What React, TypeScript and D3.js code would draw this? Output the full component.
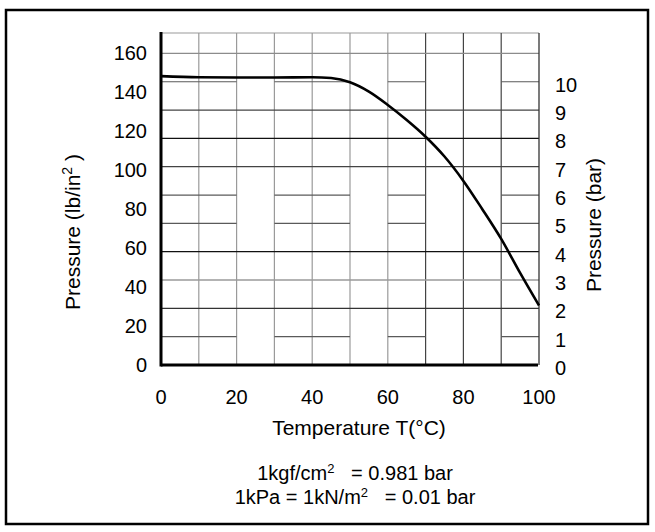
import React, { Component } from 'react';
import * as d3 from 'd3';

// temperature (deg C) vs. allowed pressure (bar)
const temps = [0, 10, 20, 30, 40, 45, 50, 55, 60, 65, 70, 75, 80, 85, 90, 95, 100];
const pressureBar = [10.2, 10.16, 10.15, 10.15, 10.16, 10.13, 9.98, 9.65, 9.18, 8.65, 8.06, 7.36, 6.5, 5.5, 4.45, 3.25, 2.1];

const tempTicks = [0, 20, 40, 60, 80, 100];
const psiTicks = [0, 20, 40, 60, 80, 100, 120, 140, 160];
const barTicks = [0, 1, 2, 3, 4, 5, 6, 7, 8, 9, 10];
const vGrid = [10, 20, 30, 40, 50, 60, 70, 80, 90];
const hGridFull = [2, 3, 4, 7, 8, 9, 11];
const hGridBroken = [1, 5, 6, 10];
const brokenSpans = [[0, 20], [30, 50], [60, 70], [90, 100]];

const PSI_PER_BAR = 14.5038;
const PSI_MAX = 170;

class PressureChart extends Component<any> {
    svgRef = React.createRef<SVGSVGElement>();

    componentDidMount() {
        const svg = d3.select(this.svgRef.current);
        svg.selectAll('*').remove();
        const dims = { left: 161, right: 539, top: 33, bottom: 365 };
        const x = d3.scaleLinear().domain([0, 100]).range([dims.left, dims.right]);
        const yPsi = d3.scaleLinear().domain([0, PSI_MAX]).range([dims.bottom, dims.top]);
        const yBar = d3.scaleLinear().domain([0, PSI_MAX / PSI_PER_BAR]).range([dims.bottom, dims.top]);

        // outer frame
        svg.append('rect')
            .attr('x', 6).attr('y', 10).attr('width', 642).attr('height', 514)
            .attr('fill', '#fff').attr('stroke', '#000').attr('stroke-width', 2.5);

        this.drawGrid(svg, x, yBar, yPsi);
        this.drawCurve(svg, x, yBar);
        this.drawLabels(svg, x, yBar, yPsi);
    }

    drawGrid = (svg, x, yBar, yPsi) => {
        const g = svg.append('g');
        const hColor = (b) => ({ 11: '#8c8c8c', 9: '#444', 8: '#111', 7: '#444', 4: '#111', 3: '#9a9a9a', 2: '#333' }[b] || '#555');

        // top edge
        g.append('line')
            .attr('x1', x(0)).attr('x2', x(100))
            .attr('y1', yPsi(PSI_MAX)).attr('y2', yPsi(PSI_MAX))
            .attr('stroke', '#999').attr('stroke-width', 1.2);

        g.selectAll('.vgrid')
            .data(vGrid)
            .enter().append('line')
            .attr('x1', d => x(d)).attr('x2', d => x(d))
            .attr('y1', yPsi(PSI_MAX)).attr('y2', yPsi(0))
            .attr('stroke', d => d <= 60 ? '#9a9a9a' : '#444')
            .attr('stroke-width', 1.2);

        g.selectAll('.hfull')
            .data(hGridFull)
            .enter().append('line')
            .attr('x1', x(0)).attr('x2', x(100))
            .attr('y1', d => yBar(d)).attr('y2', d => yBar(d))
            .attr('stroke', d => hColor(d))
            .attr('stroke-width', 1.3);

        hGridBroken.forEach(b => {
            g.selectAll('.hb' + b)
                .data(brokenSpans)
                .enter().append('line')
                .attr('x1', d => x(d[0])).attr('x2', d => x(d[1]))
                .attr('y1', yBar(b)).attr('y2', yBar(b))
                .attr('stroke', '#5a5a5a')
                .attr('stroke-width', 1.2);
        });

        // right edge
        g.append('line')
            .attr('x1', x(100)).attr('x2', x(100))
            .attr('y1', yPsi(PSI_MAX)).attr('y2', yPsi(0))
            .attr('stroke', '#333').attr('stroke-width', 1.3);

        // axes
        g.append('line')
            .attr('x1', x(0)).attr('x2', x(0))
            .attr('y1', yPsi(PSI_MAX) - 1).attr('y2', yPsi(0) + 1.5)
            .attr('stroke', '#000').attr('stroke-width', 3);
        g.append('line')
            .attr('x1', x(0)).attr('x2', x(100) - 1)
            .attr('y1', yPsi(0)).attr('y2', yPsi(0))
            .attr('stroke', '#000').attr('stroke-width', 3);
    }

    drawCurve = (svg, x, yBar) => {
        const line = d3.line<number>()
            .x((d, i) => x(temps[i]))
            .y(d => yBar(d))
            .curve(d3.curveMonotoneX);
        svg.append('path')
            .datum(pressureBar)
            .attr('d', line)
            .attr('fill', 'none')
            .attr('stroke', '#000')
            .attr('stroke-width', 2.6);
    }

    drawLabels = (svg, x, yBar, yPsi) => {
        const font = 'Liberation Sans, Arial, sans-serif';
        const t = svg.append('g').attr('font-family', font).attr('fill', '#000');

        t.selectAll('.psi')
            .data(psiTicks)
            .enter().append('text')
            .attr('x', 147).attr('y', d => yPsi(d) + 7)
            .attr('text-anchor', 'end')
            .attr('font-size', 20)
            .text(d => d);

        t.selectAll('.bar')
            .data(barTicks)
            .enter().append('text')
            .attr('x', 555).attr('y', d => yBar(d) + 10)
            .attr('font-size', 20)
            .text(d => d);

        t.selectAll('.temp')
            .data(tempTicks)
            .enter().append('text')
            .attr('x', d => x(d)).attr('y', 404)
            .attr('text-anchor', 'middle')
            .attr('font-size', 20)
            .text(d => d);

        t.append('text')
            .attr('x', 359).attr('y', 435)
            .attr('text-anchor', 'middle')
            .attr('font-size', 21)
            .text('Temperature T(°C)');

        // left title
        const lt = t.append('text')
            .attr('transform', 'translate(80,232) rotate(-90)')
            .attr('text-anchor', 'middle')
            .attr('font-size', 21);
        lt.append('tspan').text('Pressure (lb/in');
        lt.append('tspan').attr('dy', -8).attr('font-size', 14).text('2');
        lt.append('tspan').attr('dy', 8).text(' )');

        t.append('text')
            .attr('transform', 'translate(601,225) rotate(-90)')
            .attr('text-anchor', 'middle')
            .attr('font-size', 21)
            .text('Pressure (bar)');

        const n1 = t.append('text')
            .attr('x', 355).attr('y', 480)
            .attr('text-anchor', 'middle')
            .attr('font-size', 20);
        n1.append('tspan').text('1kgf/cm');
        n1.append('tspan').attr('dy', -7).attr('font-size', 13).text('2');
        n1.append('tspan').attr('dy', 7).text('\u00a0\u00a0 = 0.981 bar');

        const n2 = t.append('text')
            .attr('x', 355).attr('y', 504)
            .attr('text-anchor', 'middle')
            .attr('font-size', 20);
        n2.append('tspan').text('1kPa = 1kN/m');
        n2.append('tspan').attr('dy', -7).attr('font-size', 13).text('2');
        n2.append('tspan').attr('dy', 7).text('\u00a0\u00a0 = 0.01 bar');
    }

    render() {
        return (
            <svg ref={this.svgRef} width={655} height={532}
                style={{ position: 'absolute', left: 0, top: 0, display: 'block' }}>
            </svg>
        );
    }
}

export default function App() {
    return (
        <div>
            <PressureChart />
        </div>
    );
}
